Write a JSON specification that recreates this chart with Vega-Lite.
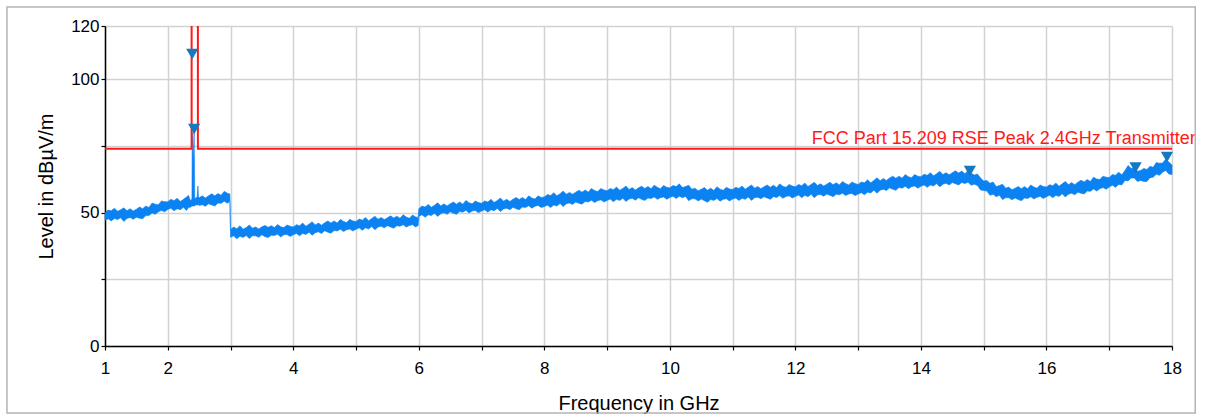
{
  "$schema": "https://vega.github.io/schema/vega-lite/v6.json",
  "width": 1067,
  "height": 320,
  "autosize": "none",
  "padding": {"left": 105, "top": 26, "right": 34, "bottom": 72},
  "background": "white",
  "config": {
    "view": {"stroke": null},
    "font": "Liberation Sans",
    "axis": {
      "labelFont": "Liberation Sans", "labelFontSize": 17, "labelColor": "#000000",
      "titleFont": "Liberation Sans", "titleFontSize": 20, "titleFontWeight": "normal", "titleColor": "#000000",
      "domainColor": "#000000", "domainWidth": 1.5, "tickColor": "#000000", "tickWidth": 1.2, "tickSize": 4,
      "gridColor": "#d2d2d2", "gridWidth": 1.5, "gridOpacity": 1
    }
  },
  "datasets": {
    "trace": [
      {"f":1.00,"lo":47.1,"hi":50.0},{"f":1.05,"lo":47.7,"hi":51.0},{"f":1.10,"lo":46.9,"hi":50.7},{"f":1.15,"lo":47.8,"hi":51.7},
      {"f":1.20,"lo":47.4,"hi":50.5},{"f":1.25,"lo":48.1,"hi":51.1},{"f":1.30,"lo":46.7,"hi":51.8},{"f":1.35,"lo":47.8,"hi":50.7},
      {"f":1.40,"lo":48.2,"hi":51.5},{"f":1.45,"lo":47.5,"hi":50.6},{"f":1.50,"lo":48.3,"hi":51.3},{"f":1.55,"lo":47.9,"hi":52.1},
      {"f":1.60,"lo":47.7,"hi":51.5},{"f":1.65,"lo":48.9,"hi":52.5},{"f":1.70,"lo":48.9,"hi":51.9},{"f":1.75,"lo":49.9,"hi":53.6},
      {"f":1.80,"lo":49.4,"hi":53.2},{"f":1.85,"lo":50.3,"hi":53.0},{"f":1.90,"lo":50.8,"hi":54.4},{"f":1.95,"lo":50.3,"hi":54.1},
      {"f":2.00,"lo":51.2,"hi":54.1},{"f":2.05,"lo":51.7,"hi":55.0},{"f":2.10,"lo":50.7,"hi":54.5},{"f":2.15,"lo":51.5,"hi":55.4},
      {"f":2.20,"lo":51.1,"hi":54.2},{"f":2.25,"lo":52.0,"hi":55.0},{"f":2.30,"lo":50.8,"hi":55.9},
      {"f":2.33,"lo":52.0,"hi":56.5},{"f":2.36,"lo":52.0,"hi":54.6},{"f":2.385,"lo":52.5,"hi":55.0},{"f":2.39,"lo":52.5,"hi":80.0},
      {"f":2.405,"lo":52.5,"hi":70.0},{"f":2.42,"lo":52.5,"hi":80.5},{"f":2.43,"lo":52.6,"hi":55.2},{"f":2.45,"lo":53.0,"hi":55.6},
      {"f":2.47,"lo":52.8,"hi":56.0},{"f":2.48,"lo":53.0,"hi":60.0},{"f":2.49,"lo":53.0,"hi":56.0},
      {"f":2.50,"lo":52.7,"hi":55.6},{"f":2.55,"lo":53.0,"hi":56.3},{"f":2.60,"lo":52.4,"hi":55.5},{"f":2.65,"lo":53.3,"hi":56.3},
      {"f":2.70,"lo":52.9,"hi":57.1},{"f":2.75,"lo":52.5,"hi":56.3},{"f":2.80,"lo":53.6,"hi":57.2},{"f":2.85,"lo":53.5,"hi":56.5},
      {"f":2.90,"lo":54.3,"hi":58.0},{"f":2.95,"lo":53.5,"hi":57.3},{"f":2.99,"lo":54.3,"hi":57.0},
      {"f":3.00,"lo":40.8,"hi":43.7},{"f":3.05,"lo":41.3,"hi":44.6},{"f":3.10,"lo":40.2,"hi":44.0},{"f":3.15,"lo":41.2,"hi":45.1},
      {"f":3.20,"lo":40.7,"hi":43.8},{"f":3.25,"lo":41.4,"hi":44.4},{"f":3.30,"lo":40.3,"hi":45.4},{"f":3.35,"lo":41.3,"hi":44.2},
      {"f":3.40,"lo":41.3,"hi":44.6},{"f":3.45,"lo":40.8,"hi":43.9},{"f":3.50,"lo":41.7,"hi":44.7},{"f":3.55,"lo":41.0,"hi":45.2},
      {"f":3.60,"lo":40.7,"hi":44.5},{"f":3.65,"lo":41.5,"hi":45.1},{"f":3.70,"lo":41.4,"hi":44.4},{"f":3.75,"lo":41.9,"hi":45.6},
      {"f":3.80,"lo":40.9,"hi":44.7},{"f":3.85,"lo":41.7,"hi":44.4},{"f":3.90,"lo":41.8,"hi":45.4},{"f":3.95,"lo":41.1,"hi":44.9},
      {"f":4.00,"lo":41.7,"hi":44.6},{"f":4.05,"lo":42.2,"hi":45.5},{"f":4.10,"lo":41.3,"hi":45.1},{"f":4.15,"lo":42.2,"hi":46.1},
      {"f":4.20,"lo":41.8,"hi":44.9},{"f":4.25,"lo":42.7,"hi":45.7},{"f":4.30,"lo":41.5,"hi":46.6},{"f":4.35,"lo":42.5,"hi":45.4},
      {"f":4.40,"lo":42.8,"hi":46.1},{"f":4.45,"lo":42.2,"hi":45.3},{"f":4.50,"lo":43.2,"hi":46.2},{"f":4.55,"lo":42.7,"hi":46.9},
      {"f":4.60,"lo":42.3,"hi":46.1},{"f":4.65,"lo":43.3,"hi":46.9},{"f":4.70,"lo":43.1,"hi":46.1},{"f":4.75,"lo":43.8,"hi":47.5},
      {"f":4.80,"lo":42.9,"hi":46.7},{"f":4.85,"lo":43.6,"hi":46.3},{"f":4.90,"lo":43.9,"hi":47.5},{"f":4.95,"lo":43.1,"hi":46.9},
      {"f":5.00,"lo":43.8,"hi":46.7},{"f":5.05,"lo":44.3,"hi":47.6},{"f":5.10,"lo":43.4,"hi":47.2},{"f":5.15,"lo":44.3,"hi":48.2},
      {"f":5.20,"lo":43.9,"hi":47.0},{"f":5.25,"lo":44.8,"hi":47.8},{"f":5.30,"lo":43.6,"hi":48.7},{"f":5.35,"lo":44.6,"hi":47.5},
      {"f":5.40,"lo":44.9,"hi":48.2},{"f":5.45,"lo":44.3,"hi":47.4},{"f":5.50,"lo":45.1,"hi":48.1},{"f":5.55,"lo":44.6,"hi":48.8},
      {"f":5.60,"lo":44.2,"hi":48.0},{"f":5.65,"lo":45.1,"hi":48.7},{"f":5.70,"lo":44.9,"hi":47.9},{"f":5.75,"lo":45.5,"hi":49.2},
      {"f":5.80,"lo":44.6,"hi":48.4},{"f":5.85,"lo":45.2,"hi":47.9},{"f":5.90,"lo":45.5,"hi":49.1},{"f":5.95,"lo":44.6,"hi":48.4},
      {"f":5.99,"lo":45.2,"hi":48.2},
      {"f":6.00,"lo":48.6,"hi":51.5},{"f":6.05,"lo":49.2,"hi":52.5},{"f":6.10,"lo":48.3,"hi":52.1},{"f":6.15,"lo":49.2,"hi":53.1},
      {"f":6.20,"lo":48.9,"hi":52.0},{"f":6.25,"lo":49.8,"hi":52.8},{"f":6.30,"lo":48.6,"hi":53.7},{"f":6.35,"lo":49.6,"hi":52.5},
      {"f":6.40,"lo":50.0,"hi":53.3},{"f":6.45,"lo":49.4,"hi":52.5},{"f":6.50,"lo":50.3,"hi":53.3},{"f":6.55,"lo":49.8,"hi":54.0},
      {"f":6.60,"lo":49.4,"hi":53.2},{"f":6.65,"lo":50.4,"hi":54.0},{"f":6.70,"lo":50.2,"hi":53.2},{"f":6.75,"lo":50.9,"hi":54.6},
      {"f":6.80,"lo":49.9,"hi":53.7},{"f":6.85,"lo":50.6,"hi":53.3},{"f":6.90,"lo":50.8,"hi":54.4},{"f":6.95,"lo":50.0,"hi":53.8},
      {"f":7.00,"lo":50.6,"hi":53.5},{"f":7.05,"lo":51.1,"hi":54.4},{"f":7.10,"lo":50.2,"hi":54.0},{"f":7.15,"lo":51.1,"hi":55.0},
      {"f":7.20,"lo":50.7,"hi":53.8},{"f":7.25,"lo":51.6,"hi":54.6},{"f":7.30,"lo":50.4,"hi":55.5},{"f":7.35,"lo":51.4,"hi":54.3},
      {"f":7.40,"lo":51.7,"hi":55.0},{"f":7.45,"lo":51.1,"hi":54.2},{"f":7.50,"lo":52.0,"hi":55.0},{"f":7.55,"lo":51.5,"hi":55.7},
      {"f":7.60,"lo":51.1,"hi":54.9},{"f":7.65,"lo":52.1,"hi":55.7},{"f":7.70,"lo":51.9,"hi":54.9},{"f":7.75,"lo":52.6,"hi":56.3},
      {"f":7.80,"lo":51.7,"hi":55.5},{"f":7.85,"lo":52.4,"hi":55.1},{"f":7.90,"lo":52.7,"hi":56.3},{"f":7.95,"lo":51.9,"hi":55.7},
      {"f":8.00,"lo":52.3,"hi":55.9},{"f":8.05,"lo":52.8,"hi":56.8},{"f":8.10,"lo":51.9,"hi":56.4},{"f":8.15,"lo":52.9,"hi":57.5},
      {"f":8.20,"lo":52.5,"hi":56.3},{"f":8.25,"lo":53.4,"hi":57.1},{"f":8.30,"lo":52.3,"hi":58.1},{"f":8.35,"lo":53.3,"hi":56.9},
      {"f":8.40,"lo":53.6,"hi":57.6},{"f":8.45,"lo":53.1,"hi":56.9},{"f":8.50,"lo":54.0,"hi":57.7},{"f":8.55,"lo":53.5,"hi":58.4},
      {"f":8.60,"lo":53.2,"hi":57.7},{"f":8.65,"lo":54.2,"hi":58.5},{"f":8.70,"lo":54.0,"hi":57.7},{"f":8.75,"lo":54.7,"hi":59.1},
      {"f":8.80,"lo":53.8,"hi":58.3},{"f":8.85,"lo":54.5,"hi":57.9},{"f":8.90,"lo":54.8,"hi":59.1},{"f":8.95,"lo":54.0,"hi":58.5},
      {"f":9.00,"lo":54.6,"hi":58.2},{"f":9.05,"lo":55.1,"hi":59.1},{"f":9.10,"lo":54.1,"hi":58.6},{"f":9.15,"lo":55.0,"hi":59.6},
      {"f":9.20,"lo":54.6,"hi":58.4},{"f":9.25,"lo":55.4,"hi":59.1},{"f":9.30,"lo":54.2,"hi":60.0},{"f":9.35,"lo":55.1,"hi":58.7},
      {"f":9.40,"lo":55.4,"hi":59.4},{"f":9.45,"lo":54.7,"hi":58.5},{"f":9.50,"lo":55.6,"hi":59.3},{"f":9.55,"lo":55.0,"hi":59.9},
      {"f":9.60,"lo":54.6,"hi":59.1},{"f":9.65,"lo":55.5,"hi":59.8},{"f":9.70,"lo":55.3,"hi":59.0},{"f":9.75,"lo":55.9,"hi":60.3},
      {"f":9.80,"lo":55.0,"hi":59.5},{"f":9.85,"lo":55.6,"hi":59.0},{"f":9.90,"lo":55.9,"hi":60.2},{"f":9.95,"lo":55.0,"hi":59.5},
      {"f":10.00,"lo":55.7,"hi":59.3},{"f":10.05,"lo":56.2,"hi":60.2},{"f":10.10,"lo":55.3,"hi":59.8},{"f":10.15,"lo":56.2,"hi":60.8},
      {"f":10.20,"lo":55.6,"hi":59.4},{"f":10.25,"lo":56.1,"hi":59.8},{"f":10.30,"lo":54.5,"hi":60.3},{"f":10.35,"lo":55.2,"hi":58.8},
      {"f":10.40,"lo":55.2,"hi":59.2},{"f":10.45,"lo":54.4,"hi":58.2},{"f":10.50,"lo":55.1,"hi":58.8},{"f":10.55,"lo":54.5,"hi":59.4},
      {"f":10.60,"lo":53.9,"hi":58.4},{"f":10.65,"lo":54.9,"hi":59.2},{"f":10.70,"lo":54.6,"hi":58.3},{"f":10.75,"lo":55.3,"hi":59.7},
      {"f":10.80,"lo":54.3,"hi":58.8},{"f":10.85,"lo":55.0,"hi":58.4},{"f":10.90,"lo":55.2,"hi":59.5},{"f":10.95,"lo":54.4,"hi":58.9},
      {"f":11.00,"lo":55.1,"hi":58.7},{"f":11.05,"lo":55.5,"hi":59.5},{"f":11.10,"lo":54.6,"hi":59.1},{"f":11.15,"lo":55.4,"hi":60.0},
      {"f":11.20,"lo":55.0,"hi":58.8},{"f":11.25,"lo":55.9,"hi":59.6},{"f":11.30,"lo":54.6,"hi":60.4},{"f":11.35,"lo":55.6,"hi":59.2},
      {"f":11.40,"lo":55.8,"hi":59.8},{"f":11.45,"lo":55.2,"hi":59.0},{"f":11.50,"lo":56.0,"hi":59.7},{"f":11.55,"lo":55.5,"hi":60.4},
      {"f":11.60,"lo":55.0,"hi":59.5},{"f":11.65,"lo":56.0,"hi":60.3},{"f":11.70,"lo":55.7,"hi":59.4},{"f":11.75,"lo":56.4,"hi":60.8},
      {"f":11.80,"lo":55.4,"hi":59.9},{"f":11.85,"lo":56.1,"hi":59.5},{"f":11.90,"lo":56.3,"hi":60.6},{"f":11.95,"lo":55.5,"hi":60.0},
      {"f":12.00,"lo":56.1,"hi":59.7},{"f":12.05,"lo":56.6,"hi":60.6},{"f":12.10,"lo":55.6,"hi":60.1},{"f":12.15,"lo":56.5,"hi":61.1},
      {"f":12.20,"lo":56.0,"hi":59.8},{"f":12.25,"lo":56.9,"hi":60.6},{"f":12.30,"lo":55.6,"hi":61.4},{"f":12.35,"lo":56.6,"hi":60.2},
      {"f":12.40,"lo":56.8,"hi":60.8},{"f":12.45,"lo":56.2,"hi":60.0},{"f":12.50,"lo":57.0,"hi":60.7},{"f":12.55,"lo":56.5,"hi":61.4},
      {"f":12.60,"lo":56.0,"hi":60.5},{"f":12.65,"lo":56.9,"hi":61.2},{"f":12.70,"lo":56.7,"hi":60.4},{"f":12.75,"lo":57.3,"hi":61.7},
      {"f":12.80,"lo":56.4,"hi":60.9},{"f":12.85,"lo":57.0,"hi":60.4},{"f":12.90,"lo":57.2,"hi":61.5},{"f":12.95,"lo":56.4,"hi":60.9},
      {"f":13.00,"lo":57.0,"hi":60.6},{"f":13.05,"lo":57.5,"hi":61.5},{"f":13.10,"lo":56.7,"hi":61.2},{"f":13.15,"lo":57.7,"hi":62.3},
      {"f":13.20,"lo":57.4,"hi":61.2},{"f":13.25,"lo":58.4,"hi":62.1},{"f":13.30,"lo":57.3,"hi":63.1},{"f":13.35,"lo":58.4,"hi":62.0},
      {"f":13.40,"lo":58.8,"hi":62.8},{"f":13.45,"lo":58.3,"hi":62.1},{"f":13.50,"lo":59.3,"hi":63.0},{"f":13.55,"lo":58.8,"hi":63.7},
      {"f":13.60,"lo":58.4,"hi":62.9},{"f":13.65,"lo":59.4,"hi":63.7},{"f":13.70,"lo":59.2,"hi":62.9},{"f":13.75,"lo":59.9,"hi":64.3},
      {"f":13.80,"lo":59.0,"hi":63.5},{"f":13.85,"lo":59.7,"hi":63.1},{"f":13.90,"lo":60.0,"hi":64.3},{"f":13.95,"lo":59.2,"hi":63.7},
      {"f":14.00,"lo":59.9,"hi":63.5},{"f":14.05,"lo":60.4,"hi":64.4},{"f":14.10,"lo":59.5,"hi":64.0},{"f":14.15,"lo":60.4,"hi":65.0},
      {"f":14.20,"lo":60.0,"hi":63.8},{"f":14.25,"lo":60.9,"hi":64.6},{"f":14.30,"lo":59.7,"hi":65.5},{"f":14.35,"lo":60.7,"hi":64.3},
      {"f":14.40,"lo":61.0,"hi":65.0},{"f":14.45,"lo":60.4,"hi":64.2},{"f":14.50,"lo":61.3,"hi":65.0},{"f":14.55,"lo":60.8,"hi":65.7},
      {"f":14.60,"lo":60.4,"hi":64.9},{"f":14.65,"lo":61.3,"hi":65.6},{"f":14.70,"lo":60.9,"hi":64.6},{"f":14.75,"lo":61.4,"hi":65.8},
      {"f":14.80,"lo":60.3,"hi":64.8},{"f":14.85,"lo":60.7,"hi":64.1},{"f":14.90,"lo":60.2,"hi":64.5},{"f":14.95,"lo":58.5,"hi":63.0},
      {"f":15.00,"lo":58.3,"hi":61.9},{"f":15.05,"lo":58.1,"hi":62.1},{"f":15.10,"lo":56.5,"hi":61.0},{"f":15.15,"lo":56.9,"hi":61.5},
      {"f":15.20,"lo":56.0,"hi":59.8},{"f":15.25,"lo":56.5,"hi":60.2},{"f":15.30,"lo":54.9,"hi":60.7},{"f":15.35,"lo":55.6,"hi":59.2},
      {"f":15.40,"lo":55.6,"hi":59.6},{"f":15.45,"lo":54.8,"hi":58.6},{"f":15.50,"lo":55.5,"hi":59.2},{"f":15.55,"lo":54.9,"hi":59.8},
      {"f":15.60,"lo":54.5,"hi":59.0},{"f":15.65,"lo":55.5,"hi":59.8},{"f":15.70,"lo":55.3,"hi":59.0},{"f":15.75,"lo":56.0,"hi":60.4},
      {"f":15.80,"lo":55.1,"hi":59.6},{"f":15.85,"lo":55.8,"hi":59.2},{"f":15.90,"lo":56.1,"hi":60.4},{"f":15.95,"lo":55.3,"hi":59.8},
      {"f":16.00,"lo":56.0,"hi":59.6},{"f":16.05,"lo":56.5,"hi":60.5},{"f":16.10,"lo":55.6,"hi":60.1},{"f":16.15,"lo":56.5,"hi":61.1},
      {"f":16.20,"lo":56.1,"hi":59.9},{"f":16.25,"lo":57.1,"hi":60.8},{"f":16.30,"lo":55.9,"hi":61.7},{"f":16.35,"lo":56.9,"hi":60.5},
      {"f":16.40,"lo":57.3,"hi":61.3},{"f":16.45,"lo":56.7,"hi":60.5},{"f":16.50,"lo":57.7,"hi":61.4},{"f":16.55,"lo":57.3,"hi":62.2},
      {"f":16.60,"lo":57.0,"hi":61.5},{"f":16.65,"lo":58.1,"hi":62.4},{"f":16.70,"lo":58.0,"hi":61.7},{"f":16.75,"lo":58.9,"hi":63.3},
      {"f":16.80,"lo":58.1,"hi":62.6},{"f":16.85,"lo":59.0,"hi":62.4},{"f":16.90,"lo":59.4,"hi":63.7},{"f":16.95,"lo":58.8,"hi":63.3},
      {"f":17.00,"lo":59.6,"hi":63.2},{"f":17.05,"lo":60.3,"hi":64.3},{"f":17.10,"lo":59.5,"hi":64.0},{"f":17.15,"lo":60.6,"hi":65.2},
      {"f":17.20,"lo":60.4,"hi":64.2},{"f":17.25,"lo":62.1,"hi":65.8},{"f":17.30,"lo":61.9,"hi":67.7},{"f":17.35,"lo":63.0,"hi":66.6},
      {"f":17.40,"lo":63.0,"hi":67.0},{"f":17.45,"lo":61.7,"hi":65.5},{"f":17.50,"lo":62.1,"hi":65.8},{"f":17.55,"lo":61.7,"hi":66.6},
      {"f":17.60,"lo":61.7,"hi":66.2},{"f":17.65,"lo":63.1,"hi":67.4},{"f":17.70,"lo":63.3,"hi":67.0},{"f":17.75,"lo":64.4,"hi":68.8},
      {"f":17.80,"lo":64.0,"hi":68.5},{"f":17.85,"lo":65.2,"hi":68.6},{"f":17.90,"lo":65.8,"hi":70.1},{"f":17.95,"lo":64.5,"hi":69.0},
      {"f":18.00,"lo":64.3,"hi":67.9}
    ],
    "limit": [
      {"i":0,"f":1.0,"v":74},{"i":1,"f":2.38,"v":74},{"i":2,"f":2.38,"v":130},
      {"i":3,"f":2.48,"v":130},{"i":4,"f":2.48,"v":74},{"i":5,"f":18.0,"v":74}
    ],
    "markers": [
      {"f":2.39,"v":109.5},{"f":2.42,"v":81.4},{"f":14.78,"v":65.6},{"f":17.42,"v":66.9},{"f":17.92,"v":70.9}
    ]
  },
  "layer": [
    {
      "data": {"name": "trace"},
      "mark": {"type": "area", "color": "#0a82f2", "stroke": "#0a82f2", "strokeWidth": 0.6},
      "encoding": {
        "x": {"field": "f", "type": "quantitative", "scale": {"domain": [1, 18], "nice": false, "zero": false},
          "title": "Frequency in GHz",
          "axis": {"values": [1,2,3,4,5,6,7,8,9,10,11,12,13,14,15,16,17,18], "format": "d", "labelFlush": false,
            "labelExpr": "datum.value == 1 || datum.value % 2 == 0 ? datum.label : ''",
            "labelPadding": 10, "titlePadding": 17, "grid": true}},
        "y": {"field": "lo", "type": "quantitative", "scale": {"domain": [0, 120], "nice": false},
          "title": "Level in dBµV/m",
          "axis": {"values": [0, 25, 50, 75, 100, 120], "labelFlush": false,
            "labelExpr": "datum.value == 25 || datum.value == 75 ? '' : datum.label",
            "labelPadding": 2, "titlePadding": 14, "grid": true}},
        "y2": {"field": "hi"}
      }
    },
    {
      "data": {"name": "limit"},
      "mark": {"type": "line", "color": "#ff1a1a", "strokeWidth": 2, "clip": true},
      "encoding": {
        "x": {"field": "f", "type": "quantitative", "title": "Frequency in GHz"},
        "y": {"field": "v", "type": "quantitative", "title": "Level in dBµV/m"},
        "order": {"field": "i"}
      }
    },
    {
      "data": {"values": [{"f": 18.38, "v": 74, "t": "FCC Part 15.209 RSE Peak 2.4GHz Transmitter"}]},
      "mark": {"type": "text", "align": "right", "baseline": "alphabetic", "dy": -5, "fontSize": 18, "font": "Liberation Sans", "color": "#ff1a1a"},
      "encoding": {
        "x": {"field": "f", "type": "quantitative", "title": "Frequency in GHz"},
        "y": {"field": "v", "type": "quantitative", "title": "Level in dBµV/m"},
        "text": {"field": "t"}
      }
    },
    {
      "data": {"name": "markers"},
      "mark": {"type": "point", "shape": "triangle-down", "filled": true, "size": 150, "color": "#1679c0", "opacity": 1},
      "encoding": {
        "x": {"field": "f", "type": "quantitative", "title": "Frequency in GHz"},
        "y": {"field": "v", "type": "quantitative", "title": "Level in dBµV/m"}
      }
    },
    {
      "data": {"values": [{"x1": -0.562, "x2": 18.37, "y1": -25.1, "y2": 127.1}]},
      "mark": {"type": "rect", "fill": null, "stroke": "#b4b4b4", "strokeWidth": 1.5, "clip": false},
      "encoding": {
        "x": {"field": "x1", "type": "quantitative", "title": "Frequency in GHz"},
        "x2": {"field": "x2"},
        "y": {"field": "y1", "type": "quantitative", "title": "Level in dBµV/m"},
        "y2": {"field": "y2"}
      }
    }
  ]
}
